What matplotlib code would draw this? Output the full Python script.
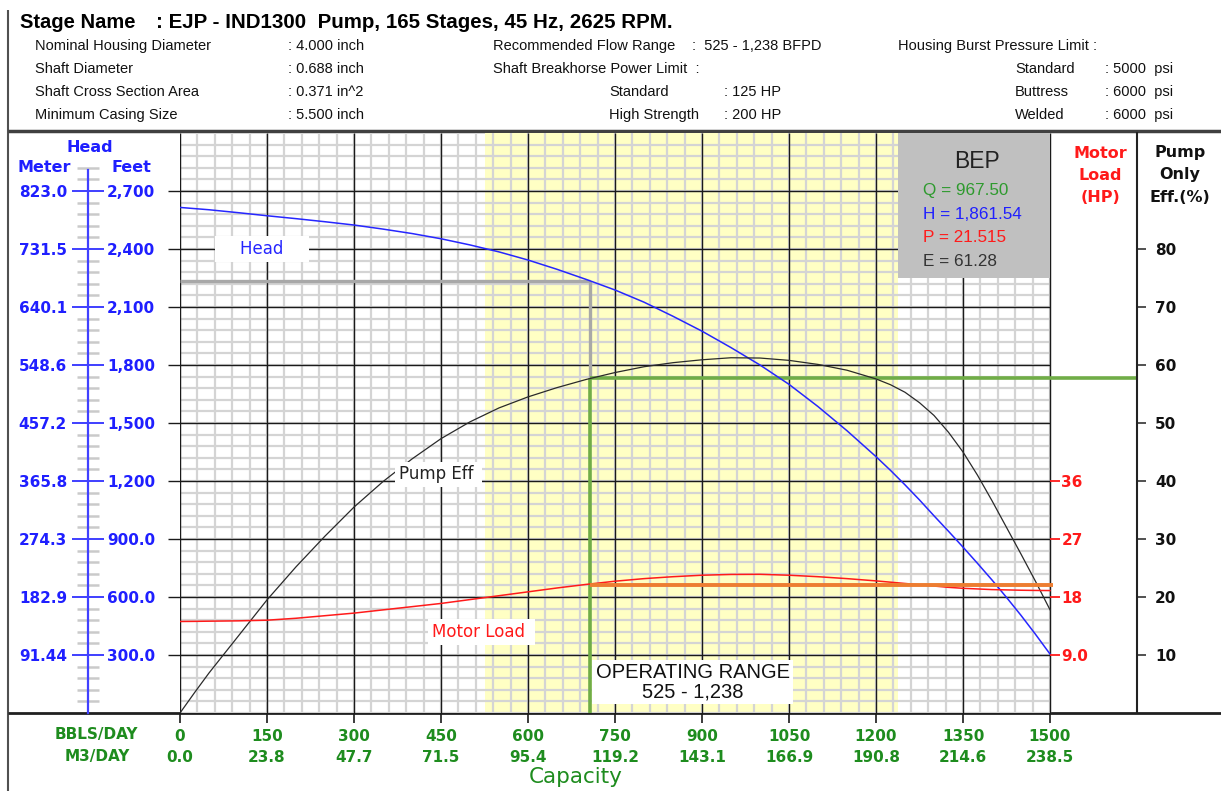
import matplotlib
matplotlib.use("Agg")
import matplotlib.pyplot as plt
import numpy as np
from matplotlib.patches import Rectangle

# ---------------- data ----------------
capacity_bpd = [0, 25, 50, 100, 150, 200, 250, 300, 350, 400, 450, 500, 550, 600, 650, 700,
                750, 800, 850, 900, 950, 1000, 1050, 1100, 1150, 1200, 1225, 1250, 1275,
                1300, 1325, 1350, 1375, 1400, 1425, 1450, 1475, 1500]
head_ft = [2615, 2609, 2603, 2588, 2572, 2557, 2541, 2524, 2503, 2480, 2453, 2421, 2385,
           2343, 2295, 2243, 2188, 2125, 2052, 1975, 1890, 1800, 1700, 1585, 1460, 1326,
           1255, 1180, 1102, 1020, 940, 858, 774, 688, 598, 505, 407, 305]
pump_eff_pct = [0, 3.5, 6.9, 13.2, 19.5, 25.2, 30.5, 35.5, 39.9, 43.8, 47.3, 50.2, 52.6,
                54.5, 56.1, 57.5, 58.7, 59.7, 60.4, 60.9, 61.25, 61.2, 60.8, 60.1, 59.1,
                57.6, 56.6, 55.3, 53.5, 51.3, 48.4, 45.0, 41.0, 36.6, 32.0, 27.4, 22.7, 17.8]
motor_load_hp = [14.2, 14.22, 14.25, 14.3, 14.4, 14.7, 15.1, 15.5, 16.0, 16.5, 17.0, 17.6,
                 18.2, 18.8, 19.4, 19.95, 20.45, 20.85, 21.15, 21.38, 21.5, 21.52, 21.38,
                 21.15, 20.85, 20.5, 20.3, 20.1, 19.9, 19.7, 19.5, 19.35, 19.25, 19.15,
                 19.1, 19.05, 19.02, 19.0]

x_ticks_bpd = [0, 150, 300, 450, 600, 750, 900, 1050, 1200, 1350, 1500]
x_ticks_bpd_labels = ["0", "150", "300", "450", "600", "750", "900", "1050", "1200", "1350", "1500"]
x_ticks_m3_labels = ["0.0", "23.8", "47.7", "71.5", "95.4", "119.2", "143.1", "166.9",
                     "190.8", "214.6", "238.5"]
head_ticks_ft = [300, 600, 900, 1200, 1500, 1800, 2100, 2400, 2700]
head_ticks_ft_labels = ["300.0", "600.0", "900.0", "1,200", "1,500", "1,800", "2,100",
                        "2,400", "2,700"]
head_ticks_m_labels = ["91.44", "182.9", "274.3", "365.8", "457.2", "548.6", "640.1",
                       "731.5", "823.0"]
motor_ticks_hp = [9, 18, 27, 36]
motor_ticks_labels = ["9.0", "18", "27", "36"]
eff_ticks_pct = [10, 20, 30, 40, 50, 60, 70, 80]

range_lo, range_hi = 525, 1238
op_q, op_head, op_eff, op_hp = 707, 2233, 57.8, 19.9
bep_q, bep_h, bep_p, bep_e = "967.50", "1,861.54", "21.515", "61.28"

header_rows = [
    ("Nominal Housing Diameter", ": 4.000 inch"),
    ("Shaft Diameter", ": 0.688 inch"),
    ("Shaft Cross Section Area", ": 0.371 in^2"),
    ("Minimum Casing Size", ": 5.500 inch"),
]

# ---------------- layout helpers ----------------
W, H = 1221, 791
fig = plt.figure(figsize=(W / 100, H / 100), dpi=100)
fig.patch.set_facecolor("white")


def rect(left, top, right, bottom):
    return [left / W, 1 - bottom / H, (right - left) / W, (bottom - top) / H]


PX = 0.72  # points per pixel
BLUE = "#1f1fff"
RED = "#ff1a1a"
GREEN = "#1e8c1e"
NUM = dict(family="DejaVu Sans", weight="bold", size=11)

# background / decoration axes (pixel coordinates)
bg = fig.add_axes([0, 0, 1, 1])
bg.set_xlim(0, W)
bg.set_ylim(H, 0)
bg.axis("off")
bg.vlines(7.5, 10, H, color="#505050", lw=1.5)
bg.hlines(131, 7.5, W, color="#404040", lw=2.5)
bg.hlines(713, 7.5, W, color="#202020", lw=2.0, zorder=5)

# header texts
HF = dict(family="Liberation Sans", size=10.5, color="#111111", va="center")
bg.text(20, 22, "Stage Name", family="Liberation Sans", weight="bold", size=14.5, va="center")
bg.text(156, 22, ": EJP - IND1300  Pump, 165 Stages, 45 Hz, 2625 RPM.",
        family="Liberation Sans", weight="bold", size=14.8, va="center")
row_y = [46, 69, 92, 115]
for (lab, val), y in zip(header_rows, row_y):
    bg.text(35, y, lab, **HF)
    bg.text(288, y, val, **HF)
bg.text(493, row_y[0], "Recommended Flow Range", **HF)
bg.text(692, row_y[0], ":  525 - 1,238 BFPD", **HF)
bg.text(493, row_y[1], "Shaft Breakhorse Power Limit  :", **HF)
bg.text(609, row_y[2], "Standard", **HF)
bg.text(724, row_y[2], ": 125 HP", **HF)
bg.text(609, row_y[3], "High Strength", **HF)
bg.text(724, row_y[3], ": 200 HP", **HF)
bg.text(898, row_y[0], "Housing Burst Pressure Limit :", **HF)
for lab, val, y in [("Standard", ": 5000  psi", row_y[1]), ("Buttress", ": 6000  psi", row_y[2]),
                    ("Welded", ": 6000  psi", row_y[3])]:
    bg.text(1015, y, lab, **HF)
    bg.text(1105, y, val, **HF)

# axis titles
TB = dict(family="DejaVu Sans", weight="bold", size=11.5, ha="center", va="center")
bg.text(90, 147, "Head", color=BLUE, **TB)
bg.text(44, 168, "Meter", color=BLUE, **TB)
bg.text(131, 168, "Feet", color=BLUE, **TB)
for y, s in zip([153, 175, 198], ["Motor", "Load", "(HP)"]):
    bg.text(1100, y, s, color=RED, **TB)
for y, s in zip([153, 175, 198], ["Pump", "Only", "Eff.(%)"]):
    bg.text(1180, y, s, color="#111111", **TB)
bg.text(96, 735, "BBLS/DAY", color=GREEN, **dict(TB, size=11))
bg.text(97, 756, "M3/DAY", color=GREEN, **dict(TB, size=11))
bg.text(576, 777, "Capacity", color=GREEN, family="DejaVu Sans", size=15.5,
        ha="center", va="center")

# ---------------- main axes ----------------
ax = fig.add_axes(rect(180, 133, 1137, 713))
ax.patch.set_visible(False)
ax.set_xlim(0, 1650)
ax.set_ylim(0, 3000)
for s in ax.spines.values():
    s.set_visible(False)

q_max = x_ticks_bpd[-1]
minor_x = np.arange(0, q_max + 1, 30)
minor_y = np.arange(0, 3000, 60)
ax.axvspan(range_lo, range_hi, color="#ffffc4", zorder=0.5, lw=0)
ax.vlines(minor_x, 0, 3000, color="#d4d4d4", lw=1.6, zorder=1)
ax.hlines(minor_y, 0, q_max, color="#d4d4d4", lw=1.6, zorder=1)
ax.vlines(x_ticks_bpd, 0, 3000, color="#1a1a1a", lw=1.0, zorder=2)
ax.hlines(head_ticks_ft, 0, q_max, color="#1a1a1a", lw=1.0, zorder=2)

ax.set_xticks(x_ticks_bpd, x_ticks_bpd_labels)
ax.set_yticks(head_ticks_ft, [])
ax.tick_params(axis="x", direction="out", length=10 * PX, width=1.2, color="#1a1a1a",
               pad=6 * PX, labelcolor=GREEN)
ax.tick_params(axis="y", direction="out", length=12 * PX, width=1.0, color="#1a1a1a")
for lbl in ax.get_xticklabels():
    lbl.set_fontproperties(dict(NUM))

sec = ax.secondary_xaxis(0, functions=(lambda v: v, lambda v: v))
sec.set_xticks(x_ticks_bpd, x_ticks_m3_labels)
sec.tick_params(length=0, pad=37 * PX, labelcolor=GREEN)
sec.spines["bottom"].set_visible(False)
for lbl in sec.get_xticklabels():
    lbl.set_fontproperties(dict(NUM))

# operating point guides
ax.hlines(op_head, 0, op_q, color="#a8a8a8", lw=2.4, zorder=3)
ax.vlines(op_q, op_eff * 30, op_head, color="#a8a8a8", lw=2.4, zorder=3)
ax.vlines(op_q, 0, op_eff * 30, color="#70ad47", lw=2.6, zorder=4)
ax.hlines(op_eff * 30, op_q, 1650, color="#70ad47", lw=2.6, zorder=4)

# BEP box
ax.add_patch(Rectangle((range_hi, 2250), q_max - range_hi, 750, facecolor="#c0c0c0",
                       edgecolor="none", zorder=6))
ax.text(1374, 2855, "BEP", family="Liberation Sans", size=16.5, ha="center", va="center",
        color="#222222", zorder=7)
BF = dict(family="Liberation Sans", size=12.3, ha="left", va="center", zorder=7)
ax.text(1281, 2700, "Q = " + bep_q, color="#2e9a2e", **BF)
ax.text(1281, 2578, "H = " + bep_h, color=BLUE, **BF)
ax.text(1281, 2457, "P = " + bep_p, color=RED, **BF)
ax.text(1281, 2333, "E = " + bep_e, color="#333333", **BF)

# head curve
ax.plot(capacity_bpd, head_ft, color="#2626ff", lw=1.1, zorder=8)

# efficiency (twin)
ax_eff = ax.twinx()
ax_eff.set_ylim(0, 100)
for k, s in ax_eff.spines.items():
    s.set_visible(k == "right")
ax_eff.spines["right"].set_linewidth(1.5)
ax_eff.spines["right"].set_color("#222222")
ax_eff.set_yticks(eff_ticks_pct, [str(v) for v in eff_ticks_pct])
ax_eff.tick_params(axis="y", direction="out", length=9 * PX, width=1.1, pad=9 * PX,
                   color="#222222", labelcolor="#111111")
for lbl in ax_eff.get_yticklabels():
    lbl.set_fontproperties(dict(NUM))
ax_eff.plot(capacity_bpd, pump_eff_pct, color="#2a2a2a", lw=0.9, zorder=8)

# motor load (twin)
ax_hp = ax.twinx()
ax_hp.set_ylim(0, 90)
ax_hp.yaxis.set_visible(False)
for s in ax_hp.spines.values():
    s.set_visible(False)
ax_hp.plot(capacity_bpd, motor_load_hp, color=RED, lw=1.1, zorder=8)
ax_hp.hlines(op_hp, op_q, q_max + 5, color="#ed7d31", lw=2.8, zorder=9)

# curve labels (top-most)
LB = dict(ha="center", va="center", family="DejaVu Sans", size=12, zorder=20,
          transform=ax.transData)
ax_hp.text(141, 2400, "    Head    ", color="#2626ff",
           bbox=dict(facecolor="white", edgecolor="none", pad=3), **LB)
ax_hp.text(446, 1236, "Pump Eff ", color="#222222",
           bbox=dict(facecolor="white", edgecolor="none", pad=2.5), **LB)
ax_hp.text(520, 420, "Motor Load ", color=RED,
           bbox=dict(facecolor="white", edgecolor="none", pad=3), **LB)
ax_hp.text(884, 160, "OPERATING RANGE\n525 - 1,238", color="#111111", linespacing=1.0,
           bbox=dict(facecolor="white", edgecolor="none", pad=2.5),
           **dict(LB, size=14.5, family="Liberation Sans"))

# motor load axis at right edge of grid
ax_ml = fig.add_axes(rect(1050, 133, 1050.1, 713))
ax_ml.patch.set_visible(False)
ax_ml.set_ylim(0, 90)
ax_ml.set_xticks([])
for s in ax_ml.spines.values():
    s.set_visible(False)
ax_ml.yaxis.tick_right()
ax_ml.set_yticks(motor_ticks_hp, motor_ticks_labels)
ax_ml.tick_params(axis="y", direction="out", length=10 * PX, width=1.3, color=RED,
                  labelcolor=RED, pad=1)
for lbl in ax_ml.get_yticklabels():
    lbl.set_fontproperties(dict(NUM))

# head axis (meter left / feet right)
ax_hm = fig.add_axes(rect(88, 133, 88.1, 713))
ax_hm.patch.set_visible(False)
ax_hm.set_ylim(0, 3000)
ax_hm.set_xticks([])
for k, s in ax_hm.spines.items():
    s.set_visible(k == "left")
ax_hm.spines["left"].set_color("#4040ff")
ax_hm.spines["left"].set_linewidth(1.6)
ax_hm.spines["left"].set_bounds(0, 2810)
ax_hm.set_yticks(head_ticks_ft, head_ticks_m_labels)
minor_head = [v for v in np.arange(60, 2821, 60) if v not in head_ticks_ft]
ax_hm.set_yticks(minor_head, minor=True)
ax_hm.tick_params(axis="y", which="major", direction="inout", length=32 * PX, width=1.3,
                  color="#3030ff", labelcolor=BLUE, pad=5 * PX)
ax_hm.tick_params(axis="y", which="minor", direction="inout", length=22 * PX, width=1.8,
                  color="#cacaca")
for lbl in ax_hm.get_yticklabels():
    lbl.set_fontproperties(dict(NUM))

ax_hf = fig.add_axes(rect(88, 133, 88.1, 713))
ax_hf.patch.set_visible(False)
ax_hf.set_ylim(0, 3000)
ax_hf.set_xticks([])
for s in ax_hf.spines.values():
    s.set_visible(False)
ax_hf.yaxis.tick_right()
ax_hf.set_yticks(head_ticks_ft, head_ticks_ft_labels)
ax_hf.tick_params(axis="y", length=0, pad=19 * PX, labelcolor=BLUE)
for lbl in ax_hf.get_yticklabels():
    lbl.set_fontproperties(dict(NUM))

fig.savefig("out.png", dpi=100, facecolor="white")
